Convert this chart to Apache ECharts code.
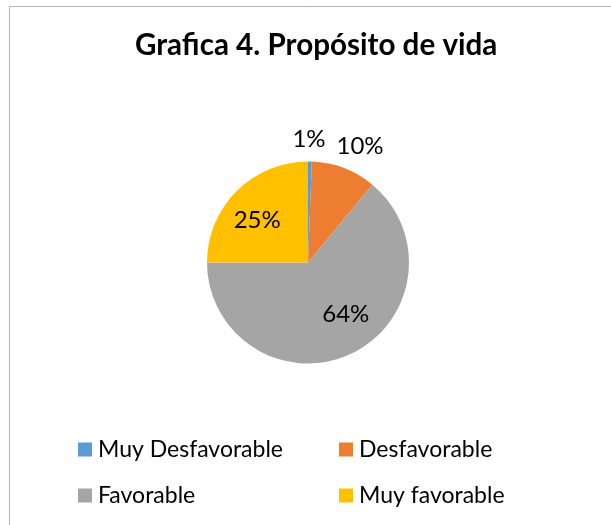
<!DOCTYPE html>
<html>
<head>
<meta charset="utf-8">
<script src="https://cdn.jsdelivr.net/npm/echarts@6/dist/echarts.min.js"></script>
<style>
html,body{margin:0;padding:0;background:#fff;}
#c{width:611px;height:525px;}
</style>
</head>
<body>
<div id="c"></div>
<script>
const titleText = 'Grafica 4. Propósito de vida';
const categories = ['Muy Desfavorable', 'Desfavorable', 'Favorable', 'Muy favorable'];
const values = [0.6, 10.4, 64, 25];
const colors = ['#5B9BD5', '#ED7D31', '#A5A5A5', '#FFC000'];

// legend grid slots (column, row) for each category
const legendSlots = [[0, 0], [1, 0], [0, 1], [1, 1]];
const legendColX = [78, 339];
const legendRowY = [438, 484];

// label nudges (style) relative to the library's inside-label position
const labelNudge = [[0, -70], [33, -66], [15, 3], [-13, -4]];

const FONT = 'Lato';
const chart = echarts.init(document.getElementById('c'), null, {renderer: 'canvas'});
const legends = categories.map((c, i) => ({
  orient: 'horizontal',
  left: legendColX[legendSlots[i][0]],
  top: legendRowY[legendSlots[i][1]],
  padding: 0,
  itemWidth: 14,
  itemHeight: 14,
  icon: 'rect',
  selectedMode: false,
  textStyle: {fontFamily: FONT, fontSize: 23, color: '#000', padding: [0, 0, 0, 1]},
  data: [c]
}));
chart.setOption({
  backgroundColor: '#fff',
  animation: false,
  color: colors,
  graphic: [{
    type: 'rect',
    shape: {x: 9.5, y: 6.5, width: 700, height: 600},
    style: {fill: 'none', stroke: '#b4b4b4', lineWidth: 1},
    silent: true, z: -1
  }],
  title: {
    text: titleText,
    left: 135,
    top: 30,
    padding: 0,
    textStyle: {fontFamily: FONT, fontWeight: 'bold', fontSize: 29.6, color: '#000'}
  },
  legend: legends,
  series: [{
    type: 'pie',
    center: [308, 262.5],
    radius: [0, 101],
    startAngle: 90,
    clockwise: true,
    percentPrecision: 0,
    avoidLabelOverlap: false,
    label: {
      show: true,
      position: 'inside',
      formatter: '{d}%',
      fontFamily: FONT,
      fontSize: 24,
      color: '#000'
    },
    labelLine: {show: false},
    labelLayout: function (p) {
      const n = labelNudge[p.dataIndex];
      return {dx: n[0], dy: n[1]};
    },
    itemStyle: {borderWidth: 0},
    emphasis: {disabled: true},
    data: categories.map((c, i) => ({name: c, value: values[i]}))
  }]
});
</script>
</body>
</html>
